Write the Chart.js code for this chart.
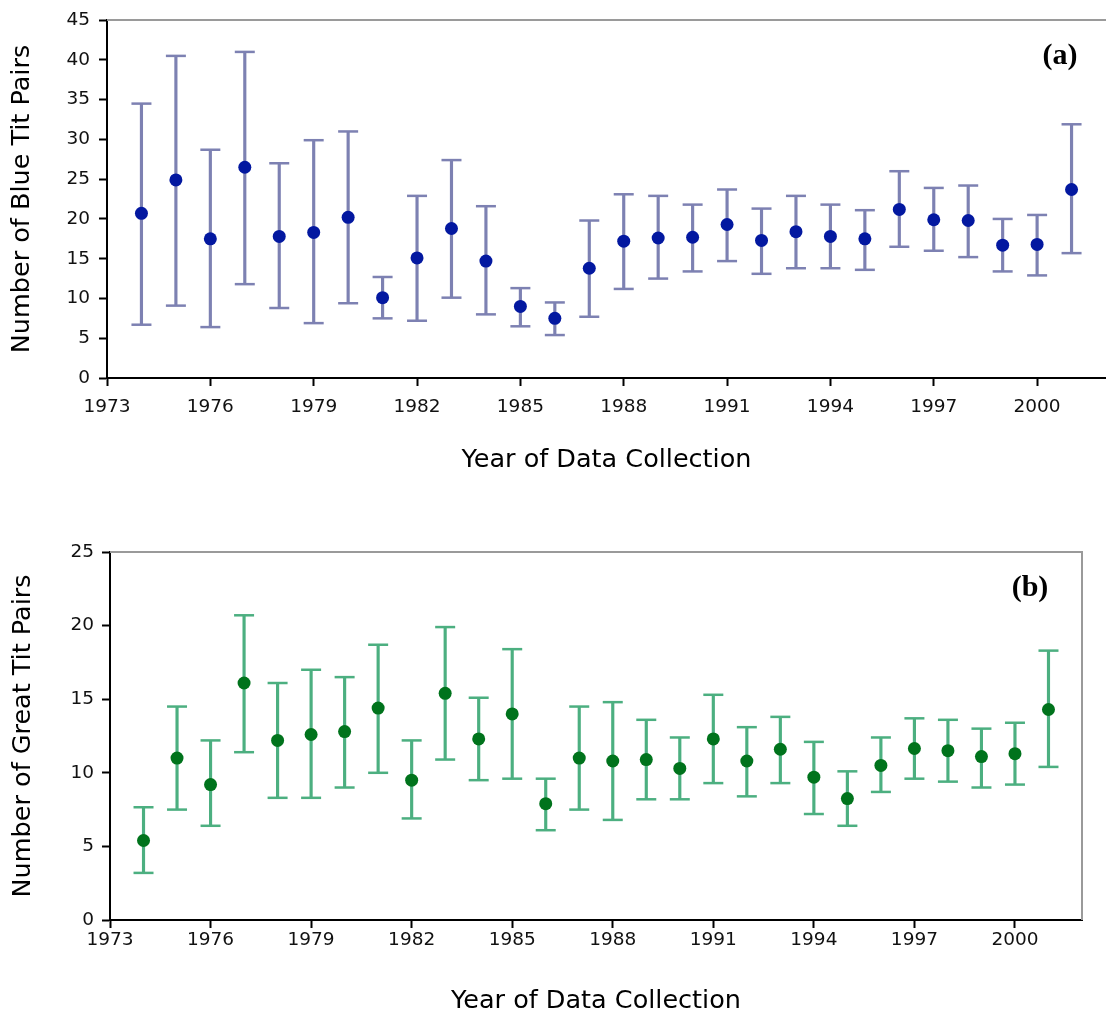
<!DOCTYPE html>
<html lang="en">
<head>
    <meta charset="UTF-8">
    <title>Blue Tit and Great Tit Pairs</title>
    <style>
        body {
            margin: 0;
            background: #fff;
            overflow: hidden;
        }
        .panel {
            position: absolute;
            left: 0;
        }
        #panelA { top: 0; }
        #panelB { top: 530px; }
    </style>
    <script src="https://cdn.jsdelivr.net/npm/chart.js"></script>
</head>
<body>
    <div class="panel" id="panelA"><canvas id="blueChart" width="1106" height="500"></canvas></div>
    <div class="panel" id="panelB"><canvas id="greatChart" width="1106" height="484"></canvas></div>

    <script>
        // Survey years and x tick labels
        var years = [1974, 1975, 1976, 1977, 1978, 1979, 1980, 1981, 1982, 1983, 1984, 1985, 1986, 1987,
                     1988, 1989, 1990, 1991, 1992, 1993, 1994, 1995, 1996, 1997, 1998, 1999, 2000, 2001];
        var yearTicks = [1973, 1976, 1979, 1982, 1985, 1988, 1991, 1994, 1997, 2000];

        // (a) Blue tit pairs: mean and error bar ends
        var blueMean  = [20.7, 24.9, 17.5, 26.5, 17.8, 18.3, 20.2, 10.1, 15.1, 18.8, 14.7, 9.0, 7.5, 13.8,
                         17.2, 17.6, 17.7, 19.3, 17.3, 18.4, 17.8, 17.5, 21.2, 19.9, 19.8, 16.7, 16.8, 23.7];
        var blueUpper = [34.5, 40.5, 28.7, 41.0, 27.0, 29.9, 31.0, 12.7, 22.9, 27.4, 21.6, 11.3, 9.5, 19.8,
                         23.1, 22.9, 21.8, 23.7, 21.3, 22.9, 21.8, 21.1, 26.0, 23.9, 24.2, 20.0, 20.5, 31.9];
        var blueLower = [6.7, 9.1, 6.4, 11.8, 8.8, 6.9, 9.4, 7.5, 7.2, 10.1, 8.0, 6.5, 5.4, 7.7,
                         11.2, 12.5, 13.4, 14.7, 13.1, 13.8, 13.8, 13.6, 16.5, 16.0, 15.2, 13.4, 12.9, 15.7];

        // (b) Great tit pairs: mean and error bar ends
        var greatMean  = [5.4, 11.0, 9.2, 16.1, 12.2, 12.6, 12.8, 14.4, 9.5, 15.4, 12.3, 14.0, 7.9, 11.0,
                          10.8, 10.9, 10.3, 12.3, 10.8, 11.6, 9.7, 8.25, 10.5, 11.65, 11.5, 11.1, 11.3, 14.3];
        var greatUpper = [7.66, 14.5, 12.2, 20.7, 16.1, 17.0, 16.5, 18.7, 12.2, 19.9, 15.1, 18.4, 9.6, 14.5,
                          14.8, 13.6, 12.4, 15.3, 13.1, 13.8, 12.1, 10.1, 12.4, 13.7, 13.6, 13.0, 13.4, 18.3];
        var greatLower = [3.2, 7.5, 6.4, 11.4, 8.3, 8.3, 9.0, 10.0, 6.9, 10.9, 9.5, 9.6, 6.1, 7.5,
                          6.8, 8.2, 8.2, 9.3, 8.4, 9.3, 7.2, 6.4, 8.7, 9.6, 9.4, 9.0, 9.2, 10.4];

        var fontFamily = 'DejaVu Sans';

        function toPoints(values) {
            return years.map(function (yr, i) { return { x: yr, y: values[i] }; });
        }
        function toRanges(lows, highs) {
            return years.map(function (yr, i) { return { x: yr, y: [lows[i], highs[i]] }; });
        }

        // gray frame lines and the (a)/(b) panel tag
        var panelFrame = {
            id: 'panelFrame',
            afterDraw: function (chart, args, o) {
                var ctx = chart.ctx, a = chart.chartArea;
                ctx.save();
                ctx.strokeStyle = '#9a9a9a';
                ctx.lineWidth = 2;
                ctx.beginPath();
                ctx.moveTo(a.left, a.top);
                ctx.lineTo(a.right, a.top);
                if (o.rightBorder) ctx.lineTo(a.right, a.bottom);
                ctx.stroke();
                ctx.fillStyle = '#000';
                ctx.font = 'bold 30px "Liberation Serif"';
                ctx.textAlign = 'center';
                ctx.textBaseline = 'middle';
                ctx.fillText(o.tag, a.right - o.tagDx, a.top + o.tagDy);
                ctx.restore();
            }
        };

        function buildChart(canvasId, s) {
            var tickMarks = { drawOnChartArea: false, offset: false, tickLength: 8, tickWidth: 2, tickColor: '#000' };
            return new Chart(document.getElementById(canvasId), {
                type: 'scatter',
                data: {
                    datasets: [
                        { type: 'bar', data: toRanges(s.lower, s.upper), backgroundColor: s.barColor,
                          borderWidth: 0, barThickness: 2.5, order: 3 },
                        { data: toPoints(s.upper), pointStyle: 'line', pointRadius: 10,
                          borderColor: s.barColor, borderWidth: 2.5, order: 2 },
                        { data: toPoints(s.lower), pointStyle: 'line', pointRadius: 10,
                          borderColor: s.barColor, borderWidth: 2.5, order: 2 },
                        { data: toPoints(s.mean), pointRadius: 6.5, backgroundColor: s.dotColor,
                          borderWidth: 0, order: 1 }
                    ]
                },
                options: {
                    responsive: false,
                    animation: false,
                    events: [],
                    layout: {
                        autoPadding: false,
                        padding: { top: s.padTop, right: s.padRight, left: 0, bottom: 0 }
                    },
                    plugins: {
                        legend: { display: false },
                        tooltip: { enabled: false },
                        panelFrame: { tag: s.tag, tagDx: s.tagDx, tagDy: s.tagDy, rightBorder: s.rightBorder }
                    },
                    scales: {
                        x: {
                            type: 'linear',
                            min: 1973,
                            max: 2002,
                            offset: false,
                            afterFit: function (scale) { scale.height = s.xHeight; },
                            afterBuildTicks: function (scale) {
                                scale.ticks = yearTicks.map(function (v) { return { value: v }; });
                            },
                            border: { display: true, color: '#000', width: 2 },
                            grid: tickMarks,
                            ticks: {
                                autoSkip: false,
                                maxRotation: 0,
                                padding: s.xPad,
                                color: '#111',
                                font: { family: fontFamily, size: 18.5 },
                                callback: function (v) { return String(v); }
                            },
                            title: {
                                display: true,
                                text: 'Year of Data Collection',
                                color: '#000',
                                font: { family: fontFamily, size: 25.5, lineHeight: 1 },
                                padding: { top: 0, bottom: s.xTitlePad }
                            }
                        },
                        y: {
                            min: 0,
                            max: s.yMax,
                            afterFit: function (scale) { scale.width = s.yWidth; },
                            border: { display: true, color: '#000', width: 2 },
                            grid: tickMarks,
                            ticks: {
                                stepSize: 5,
                                padding: s.yPad,
                                color: '#111',
                                font: { family: fontFamily, size: 18.5 }
                            },
                            title: {
                                display: true,
                                text: s.yTitle,
                                color: '#000',
                                font: { family: fontFamily, size: 25.5, lineHeight: 1 },
                                padding: { top: s.yTitlePad, bottom: 0 }
                            }
                        }
                    }
                },
                plugins: [panelFrame]
            });
        }

        // (a) Blue tits
        var blueChart = buildChart('blueChart', {
            mean: blueMean, upper: blueUpper, lower: blueLower,
            barColor: '#7d81b2', dotColor: '#0318a0',
            yMax: 45, yTitle: 'Number of Blue Tit Pairs',
            padTop: 20, padRight: 0, yWidth: 107, xHeight: 122,
            xPad: 10, yPad: 9, xTitlePad: 27, yTitlePad: 10,
            tag: '(a)', tagDx: 46, tagDy: 36, rightBorder: false
        });

        // (b) Great tits
        var greatChart = buildChart('greatChart', {
            mean: greatMean, upper: greatUpper, lower: greatLower,
            barColor: '#4caf80', dotColor: '#00731c',
            yMax: 25, yTitle: 'Number of Great Tit Pairs',
            padTop: 22, padRight: 24, yWidth: 110, xHeight: 94,
            xPad: 1, yPad: 8, xTitlePad: 0, yTitlePad: 11,
            tag: '(b)', tagDx: 52, tagDy: 36, rightBorder: true
        });
    </script>
</body>
</html>
